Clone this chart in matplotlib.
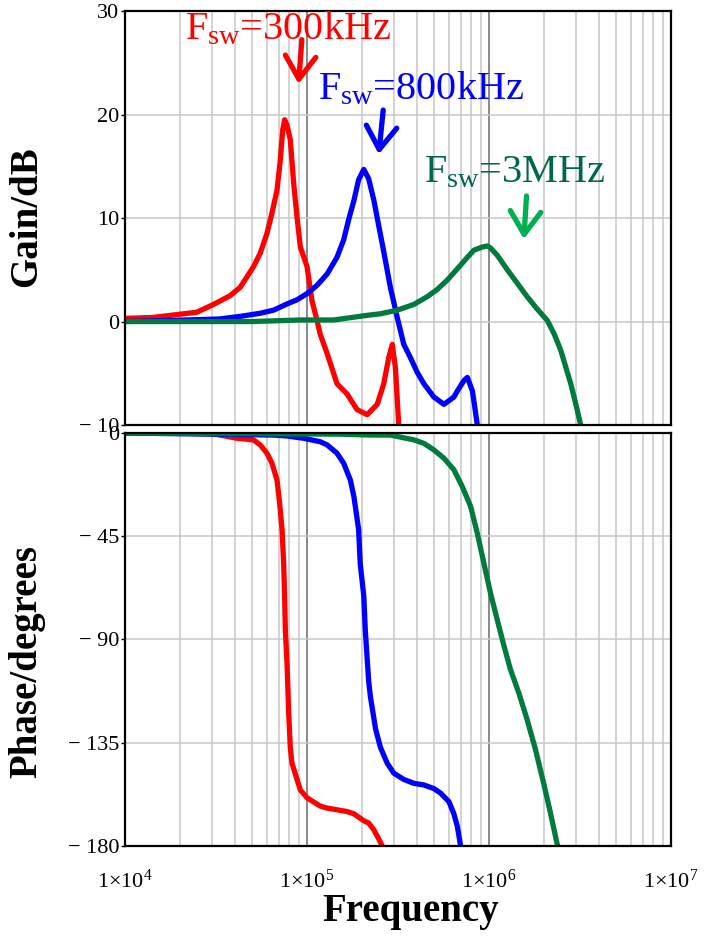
import numpy as np
import matplotlib
matplotlib.use("Agg")
import matplotlib.pyplot as plt
from matplotlib.ticker import LogLocator, NullFormatter

plt.rcParams['font.family'] = ['Liberation Serif', 'DejaVu Serif']
plt.rcParams['mathtext.fontset'] = 'custom'
plt.rcParams['mathtext.rm'] = 'Liberation Serif'
plt.rcParams['mathtext.it'] = 'Liberation Serif:italic'
plt.rcParams['mathtext.bf'] = 'Liberation Serif:bold'

# ---- data ----
# gain (dB)
f_gain_300k = [1e4, 1.43e4, 2.48e4, 3.06e4, 3.78e4, 4.29e4, 5.08e4, 5.53e4, 6.02e4, 6.42e4,
               6.84e4, 7.13e4, 7.35e4, 7.53e4, 7.75e4, 8.09e4, 8.44e4, 8.81e4, 9.19e4, 1.0e5,
               1.065e5, 1.135e5, 1.18e5, 1.29e5, 1.46e5, 1.66e5, 1.88e5, 2.14e5, 2.43e5, 2.64e5,
               2.81e5, 2.94e5, 3.06e5, 3.19e5]
gain_300k = [0.3, 0.4, 0.9, 1.65, 2.5, 3.3, 5.3, 6.6, 8.5, 10.5,
             12.7, 15.6, 18.5, 19.5, 19.0, 17.6, 13.4, 10.1, 7.2, 5.3,
             2.0, 0.1, -1.2, -3.1, -6.0, -7.0, -8.5, -9.0, -8.0, -6.0,
             -3.5, -2.2, -4.5, -10.0]

f_gain_800k = [1e4, 2.19e4, 3.33e4, 4.29e4, 5.53e4, 6.55e4, 7.76e4, 8.81e4, 1e5, 1.135e5,
               1.29e5, 1.46e5, 1.59e5, 1.69e5, 1.81e5, 1.92e5, 2.05e5, 2.18e5, 2.33e5, 2.48e5,
               2.63e5, 2.87e5, 3.13e5, 3.4e5, 3.7e5, 4.03e5, 4.38e5, 4.98e5, 5.65e5, 6.41e5,
               6.7e5, 7.28e5, 7.6e5, 8.1e5, 8.26e5, 8.62e5]
gain_800k = [0.0, 0.15, 0.25, 0.5, 0.8, 1.1, 1.7, 2.1, 2.7, 3.5,
             4.6, 6.2, 7.9, 9.8, 11.7, 13.7, 14.7, 13.8, 11.7, 9.2,
             6.9, 3.3, 0.4, -2.2, -3.5, -4.9, -6.0, -7.3, -8.0, -7.3,
             -6.7, -5.7, -5.4, -6.7, -7.7, -10.0]

f_gain_3M = [1e4, 5e4, 9.2e4, 1.4e5, 2.14e5, 2.53e5, 3.13e5, 3.86e5, 4.57e5, 5.19e5,
             5.89e5, 6.7e5, 7.6e5, 8.26e5, 9.19e5, 9.8e5, 1.02e6, 1.11e6, 1.26e6, 1.43e6,
             1.62e6, 1.84e6, 2.09e6, 2.28e6, 2.48e6, 2.64e6, 2.81e6, 3.0e6, 3.19e6]
gain_3M = [0.0, 0.0, 0.15, 0.15, 0.6, 0.75, 1.1, 1.65, 2.4, 3.1,
           4.0, 5.1, 6.2, 6.9, 7.2, 7.3, 7.1, 6.4, 5.0, 3.7,
           2.4, 1.2, 0.1, -1.2, -2.8, -4.4, -6.0, -8.0, -10.0]

# phase (degrees)
f_ph_300k = [1e4, 2.94e4, 3.33e4, 4.12e4, 5.08e4, 5.53e4, 6.02e4, 6.42e4, 6.84e4, 7.07e4,
             7.29e4, 7.44e4, 7.53e4, 7.6e4, 7.76e4, 7.93e4, 8.09e4, 8.27e4, 8.81e4, 9.19e4,
             1.0e5, 1.18e5, 1.29e5, 1.66e5, 1.81e5, 2.05e5, 2.18e5, 2.33e5, 2.48e5, 2.59e5]
ph_300k = [0, 0, -0.9, -2.3, -3, -5.2, -8.8, -13.2, -20.5, -30.6,
           -42, -57, -71, -86, -100, -122, -137, -144, -151, -155.6,
           -159, -162.6, -163.5, -165, -166, -169, -170, -173, -177, -180]

f_ph_800k = [1e4, 6.55e4, 7.76e4, 9.58e4, 1.18e5, 1.29e5, 1.46e5, 1.59e5, 1.73e5, 1.81e5,
             1.92e5, 1.96e5, 2.05e5, 2.09e5, 2.18e5, 2.23e5, 2.38e5, 2.53e5, 2.76e5, 3.0e5,
             3.4e5, 3.86e5, 4.38e5, 4.98e5, 5.42e5, 6.02e5, 6.41e5, 6.7e5, 6.98e5]
ph_800k = [0, -0.9, -1.3, -2.3, -3.8, -5.2, -8.8, -13.2, -20.5, -27.8,
           -42, -57, -71, -86, -108, -115, -129, -137, -144, -148.3,
           -151, -152.7, -153.4, -155, -157, -160.7, -166, -171.6, -180]

f_ph_3M = [1e4, 1.5e5, 2.23e5, 2.87e5, 3.86e5, 4.38e5, 4.98e5, 5.65e5, 6.41e5, 7.13e5,
           7.92e5, 8.62e5, 9.38e5, 1.02e6, 1.11e6, 1.21e6, 1.31e6, 1.46e6, 1.62e6, 1.8e6,
           2.0e6, 2.18e6, 2.38e6]
ph_3M = [0, -0.5, -0.9, -0.9, -3, -4.5, -7.4, -11, -16, -23.4,
         -32, -43.7, -57, -70, -81.5, -93, -103, -113.5, -125, -138,
         -153, -166, -180]

gain_ticks = [30, 20, 10, 0, -10]
gain_ticklabels = ["30", "20", "10", "0", "\u2212 10"]
phase_ticks = [0, -45, -90, -135, -180]
phase_ticklabels = ["0", "\u2212 45", "\u2212 90", "\u2212 135", "\u2212 180"]
freq_ticks = [1e4, 1e5, 1e6, 1e7]
freq_ticklabels = [r"1$\times$10$^{4}$", r"1$\times$10$^{5}$", r"1$\times$10$^{6}$", r"1$\times$10$^{7}$"]

red = "#ff0000"
blue = "#0000ff"
green = "#007a3d"
lw = 3.8

fig = plt.figure(figsize=(7.04, 9.36), dpi=100)
ax1 = fig.add_axes([0.1776, 0.5459, 0.7756, 0.4423])
ax2 = fig.add_axes([0.1776, 0.0962, 0.7756, 0.4412])

for ax in (ax1, ax2):
    ax.set_xscale("log")
    ax.set_xlim(1e4, 1e7)
    ax.xaxis.set_major_locator(LogLocator(base=10, numticks=10))
    ax.xaxis.set_minor_locator(LogLocator(base=10, subs=np.arange(2, 10), numticks=20))
    ax.xaxis.set_minor_formatter(NullFormatter())
    ax.grid(which="minor", axis="x", color="#c8c8c8", lw=1.1)
    ax.grid(which="major", axis="x", color="#808080", lw=1.3)
    ax.grid(which="major", axis="y", color="#c8c8c8", lw=1.1)
    ax.set_axisbelow(True)
    for s in ax.spines.values():
        s.set_linewidth(1.6)
        s.set_color("black")
    ax.tick_params(axis="x", which="both", length=0)
    ax.tick_params(axis="y", length=3, width=1, labelsize=16, pad=1)

# gain
ax1.plot(f_gain_300k, gain_300k, color=red, lw=lw, solid_joinstyle="round")
ax1.plot(f_gain_800k, gain_800k, color=blue, lw=lw, solid_joinstyle="round")
ax1.plot(f_gain_3M, gain_3M, color=green, lw=lw, solid_joinstyle="round")
ax1.set_ylim(-10, 30)
ax1.set_yticks(gain_ticks)
ax1.set_yticklabels(gain_ticklabels)
ax1.tick_params(axis="x", labelbottom=False)

# phase
ax2.plot(f_ph_300k, ph_300k, color=red, lw=lw, solid_joinstyle="round")
ax2.plot(f_ph_800k, ph_800k, color=blue, lw=lw, solid_joinstyle="round")
ax2.plot(f_ph_3M, ph_3M, color=green, lw=lw, solid_joinstyle="round")
ax2.set_ylim(-180, 0)
ax2.set_yticks(phase_ticks)
ax2.set_yticklabels(phase_ticklabels)
ax2.set_xticks(freq_ticks)
ax2.set_xticklabels(freq_ticklabels)
ax2.tick_params(axis="x", labelsize=16, pad=17)

# annotations
arrow_style = "->,head_length=0.75,head_width=0.5"
ax1.text(2.14e4, 27.3, r"F$_{\rm sw}$=300kHz", color=red, fontsize=29, va="baseline")
ax1.annotate("", xy=(8.96e4, 22.7), xytext=(9.39e4, 27.5),
             arrowprops=dict(arrowstyle=arrow_style, color=red, lw=3.8, mutation_scale=22))
ax1.text(1.15e5, 21.5, r"F$_{\rm sw}$=800kHz", color=blue, fontsize=29, va="baseline")
ax1.annotate("", xy=(2.47e5, 15.9), xytext=(2.63e5, 20.7),
             arrowprops=dict(arrowstyle=arrow_style, color=blue, lw=3.8, mutation_scale=22))
ax1.text(4.37e5, 13.5, r"F$_{\rm sw}$=3MHz", color="#00664d", fontsize=29, va="baseline")
ax1.annotate("", xy=(1.55e6, 7.7), xytext=(1.61e6, 12.4),
             arrowprops=dict(arrowstyle=arrow_style, color="#00b050", lw=3.8, mutation_scale=22))

fig.text(27 / 704, 1 - 217 / 936, "Gain/dB", rotation=90, ha="center", va="center",
         fontsize=28, fontweight="bold")
fig.text(27 / 704, 1 - 662 / 936, "Phase/degrees", rotation=90, ha="center", va="center",
         fontsize=28, fontweight="bold")
fig.text(411 / 704, 1 - 921 / 936, "Frequency", ha="center", va="baseline",
         fontsize=28, fontweight="bold")

fig.savefig("out.png", dpi=100)
